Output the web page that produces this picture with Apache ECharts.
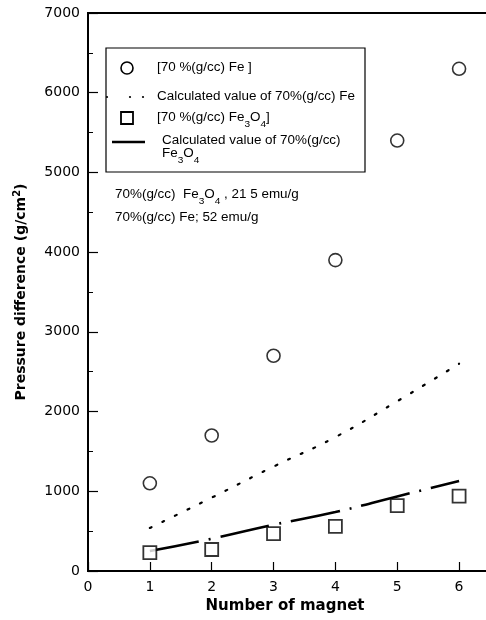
<!DOCTYPE html>
<html>
<head>
<meta charset="utf-8">
<script src="https://cdn.jsdelivr.net/npm/echarts@6/dist/echarts.min.js"></script>
<style>html,body{margin:0;padding:0;background:#fff}#c{width:486px;height:620px}</style>
</head>
<body>
<div id="c"></div>
<script>
var magnets = [1, 2, 3, 4, 5, 6];
var feMeasured = [1100, 1700, 2700, 3900, 5400, 6300];
var feCalculated = [540, 920, 1310, 1680, 2130, 2600];
var fe3o4Measured = [230, 270, 470, 560, 820, 940];
var fe3o4Calculated = [250, 405, 580, 740, 935, 1130];
var xTicks = [0, 1, 2, 3, 4, 5, 6];
var yTicks = [0, 1000, 2000, 3000, 4000, 5000, 6000, 7000];

function pairs(xs, ys) { return xs.map(function (x, i) { return [x, ys[i]]; }); }

var FONT = 'Liberation Sans, Arial, sans-serif';
var AXFONT = 'DejaVu Sans, sans-serif';
var chart = echarts.init(document.getElementById('c'));
var SX = 1.12;
var legendText = { fontFamily: FONT, fontSize: 12, fill: '#000', verticalAlign: 'middle' };
var sub = { fontFamily: FONT, fontSize: 9, verticalAlign: 'bottom', padding: [0, 0, -5, 0] };
function txt(x, y, s, rich) {
  var st = Object.assign({ text: s }, legendText);
  if (rich) st.rich = { s: sub };
  return { type: 'text', x: x, y: y, scaleX: SX, style: st, z: 11 };
}

chart.setOption({
  animation: false,
  grid: { left: 88, width: 402, top: 13, bottom: 49, containLabel: false, outerBoundsMode: 'none',
    show: true, borderColor: '#000', borderWidth: 2, backgroundColor: 'transparent' },
  xAxis: {
    type: 'value', min: 0, max: 6.5, interval: 1,
    name: 'Number of magnet', nameLocation: 'middle', nameGap: 27,
    nameTextStyle: { fontFamily: AXFONT, fontSize: 15, fontWeight: 'bold', color: '#000', padding: [0, 0, 0, -8] },
    axisLine: { show: true, lineStyle: { color: '#000', width: 2 } },
    axisTick: { show: true, inside: true, length: 9, lineStyle: { color: '#000', width: 1.2 } },
    axisLabel: { fontFamily: AXFONT, fontSize: 14, color: '#000', margin: 9, showMaxLabel: false,
      formatter: function (v) { return xTicks.indexOf(v) >= 0 ? String(v) : ''; } },
    splitLine: { show: false }
  },
  yAxis: {
    type: 'value', min: 0, max: 7000, interval: 1000,
    name: 'Pressure difference (g/cm{sup|2})', nameLocation: 'middle', nameGap: 58,
    nameTextStyle: { fontFamily: AXFONT, fontSize: 14, fontWeight: 'bold', color: '#000',
      rich: { sup: { fontFamily: AXFONT, fontSize: 10, fontWeight: 'bold', verticalAlign: 'top', padding: [0, 0, 8, 0] } } },
    axisLine: { show: true, lineStyle: { color: '#000', width: 2 } },
    axisTick: { show: true, inside: true, length: 10, lineStyle: { color: '#000', width: 1.2 } },
    minorTick: { show: true, splitNumber: 2, length: 5, lineStyle: { color: '#000', width: 1 } },
    axisLabel: { fontFamily: AXFONT, fontSize: 14, color: '#000', margin: 8,
      formatter: function (v) { return yTicks.indexOf(v) >= 0 ? String(v) : ''; } },
    splitLine: { show: false }
  },
  series: [
    { name: 'Calculated value of 70%(g/cc) Fe', type: 'line', smooth: true, showSymbol: false, z: 2,
      data: pairs(magnets, feCalculated),
      lineStyle: { color: '#000', width: 2.2, type: [2, 12], cap: 'round' } },
    { name: 'Calculated value of 70%(g/cc) Fe3O4', type: 'line', smooth: true, showSymbol: false, z: 2,
      data: pairs(magnets, fe3o4Calculated),
      lineStyle: { color: '#000', width: 2.6, type: [50, 10, 2, 10] } },
    { name: '[70 %(g/cc) Fe ]', type: 'scatter', symbol: 'circle', symbolSize: 13, z: 3,
      data: pairs(magnets, feMeasured),
      itemStyle: { color: 'rgba(255,255,255,0)', borderColor: '#000', borderWidth: 1.6 } },
    { name: '[70 %(g/cc) Fe3O4]', type: 'scatter', symbol: 'rect', symbolSize: 13, z: 3,
      data: pairs(magnets, fe3o4Measured),
      itemStyle: { color: '#fff', borderColor: '#000', borderWidth: 1.8 } }
  ],
  graphic: [
    { type: 'rect', shape: { x: 106, y: 48, width: 259, height: 124 }, style: { fill: '#fff', stroke: '#000', lineWidth: 1.2 }, z: 10 },
    { type: 'circle', shape: { cx: 127, cy: 68, r: 6 }, style: { fill: 'none', stroke: '#000', lineWidth: 1.6 }, z: 11 },
    txt(157, 68, '[70 %(g/cc) Fe ]'),
    { type: 'circle', shape: { cx: 107, cy: 97, r: 1.1 }, style: { fill: '#000' }, z: 11 },
    { type: 'circle', shape: { cx: 130, cy: 97, r: 1.1 }, style: { fill: '#000' }, z: 11 },
    { type: 'circle', shape: { cx: 143, cy: 97, r: 1.1 }, style: { fill: '#000' }, z: 11 },
    txt(157, 97, 'Calculated value of 70%(g/cc) Fe'),
    { type: 'rect', shape: { x: 121, y: 112, width: 12, height: 12 }, style: { fill: 'none', stroke: '#000', lineWidth: 1.8 }, z: 11 },
    txt(157, 118, '[70 %(g/cc) Fe{s|3}O{s|4}]', true),
    { type: 'line', shape: { x1: 112, y1: 142, x2: 145, y2: 142 }, style: { stroke: '#000', lineWidth: 2.6 }, z: 11 },
    txt(162, 141, 'Calculated value of 70%(g/cc)'),
    txt(162, 154, 'Fe{s|3}O{s|4}', true),
    txt(115, 195, '70%(g/cc)  Fe{s|3}O{s|4} , 21 5 emu/g', true),
    txt(115, 218, '70%(g/cc) Fe; 52 emu/g')
  ]
});
</script>
</body>
</html>
